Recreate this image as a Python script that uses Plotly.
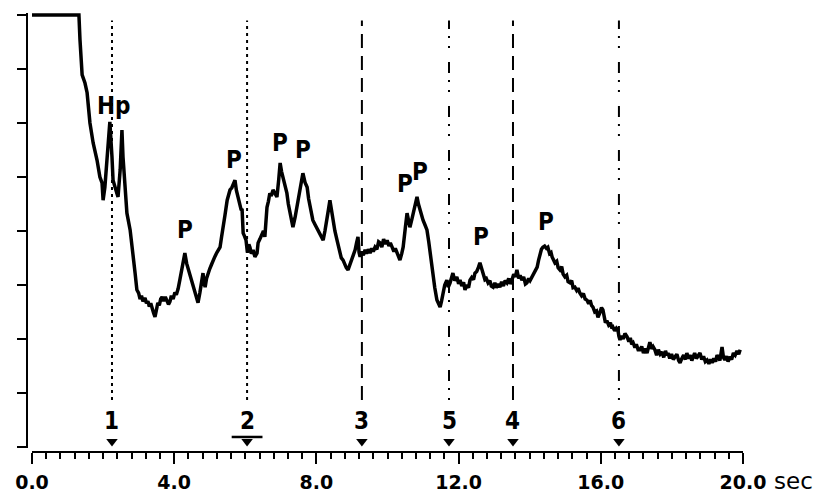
import plotly.graph_objects as go

# ---- data (time in sec, signal in arbitrary units 0..8) ----
t_sec = [
    0.00, 1.32, 1.35, 1.41, 1.49, 1.55, 1.63, 1.72, 1.83, 1.86, 1.91, 1.97, 2.00, 2.05, 2.11, 2.19,
    2.25, 2.28, 2.36, 2.42, 2.48, 2.53, 2.56, 2.62, 2.67, 2.76, 2.81, 2.86,
    2.90, 2.95, 3.00, 3.04, 3.08, 3.12, 3.18, 3.22, 3.26, 3.30, 3.34, 3.38, 3.42, 3.46, 3.50, 3.54,
    3.58, 3.62, 3.66, 3.70, 3.75, 3.80, 3.84, 3.88, 3.92, 3.97, 4.02, 4.06, 4.11, 4.16, 4.22, 4.27,
    4.30, 4.35, 4.39, 4.45, 4.53, 4.58, 4.63, 4.67, 4.72, 4.77, 4.81, 4.84, 4.87, 4.91, 4.95, 5.00,
    5.05, 5.09, 5.14, 5.20, 5.25, 5.29, 5.33, 5.37, 5.43, 5.49, 5.53, 5.57, 5.62, 5.66, 5.71, 5.75,
    5.79, 5.84, 5.88, 5.91, 5.94, 5.98, 6.02, 6.06, 6.10, 6.13, 6.17, 6.22, 6.27, 6.33, 6.36, 6.41,
    6.47, 6.51, 6.55, 6.58, 6.61, 6.65, 6.69, 6.73, 6.78, 6.83, 6.89, 6.94, 6.98, 7.02, 7.06, 7.11,
    7.17, 7.21, 7.26, 7.30, 7.34, 7.40, 7.44, 7.48, 7.53, 7.58, 7.62, 7.68, 7.74, 7.78, 7.82, 7.86,
    7.90, 7.96, 8.01, 8.05, 8.10, 8.15, 8.19, 8.24, 8.30, 8.34, 8.38, 8.42, 8.47, 8.52, 8.58, 8.62,
    8.66, 8.70, 8.75, 8.80, 8.84, 8.89, 8.94, 9.00, 9.04, 9.09, 9.13, 9.17, 9.20, 9.23, 9.27, 9.32,
    9.37, 9.41, 9.46, 9.51, 9.56, 9.60, 9.65, 9.70, 9.75, 9.79, 9.84, 9.89, 9.94, 9.99, 10.04, 10.08,
    10.13, 10.18, 10.22, 10.27, 10.31, 10.35, 10.40, 10.44, 10.50, 10.55, 10.59, 10.63, 10.68, 10.72,
    10.78, 10.83, 10.87, 10.91, 10.96, 11.00, 11.05, 11.11, 11.16, 11.20, 11.24, 11.28, 11.33, 11.39,
    11.44, 11.48, 11.52, 11.56, 11.61, 11.67, 11.71, 11.76, 11.80, 11.84, 11.89, 11.95, 12.00, 12.04,
    12.09, 12.14, 12.18, 12.23, 12.28, 12.32, 12.37, 12.42, 12.46, 12.51, 12.56, 12.60, 12.65, 12.69,
    12.74, 12.78, 12.83, 12.88, 12.92, 12.97, 13.02, 13.06, 13.11, 13.16, 13.21, 13.26, 13.31, 13.36,
    13.41, 13.45, 13.50, 13.55, 13.60, 13.64, 13.69, 13.73, 13.78, 13.83, 13.88, 13.92, 13.97, 14.01,
    14.06, 14.11, 14.16, 14.21, 14.25, 14.29, 14.33, 14.37, 14.42, 14.47, 14.51, 14.56, 14.60, 14.63,
    14.67, 14.71, 14.76, 14.80, 14.85, 14.90, 14.94, 14.99, 15.04, 15.08, 15.13, 15.18, 15.22, 15.27,
    15.32, 15.36, 15.41, 15.46, 15.51, 15.56, 15.61, 15.66, 15.70, 15.74, 15.78, 15.83, 15.88, 15.92,
    15.97, 16.02, 16.06, 16.10, 16.13, 16.17, 16.22, 16.27, 16.31, 16.34, 16.39, 16.44, 16.48, 16.51,
    16.54, 16.58, 16.63, 16.68, 16.74, 16.79, 16.83, 16.87, 16.91, 16.96, 17.00, 17.05, 17.10, 17.15,
    17.20, 17.25, 17.30, 17.34, 17.38, 17.43, 17.47, 17.52, 17.57, 17.62, 17.67, 17.72, 17.77, 17.82,
    17.86, 17.89, 17.94, 17.99, 18.04, 18.09, 18.14, 18.19, 18.23, 18.28, 18.33, 18.38, 18.42, 18.47,
    18.52, 18.56, 18.59, 18.64, 18.69, 18.74, 18.79, 18.84, 18.89, 18.94, 18.99, 19.04, 19.09, 19.13,
    19.18, 19.23, 19.27, 19.30, 19.35, 19.41, 19.45, 19.49, 19.54, 19.58, 19.63, 19.68, 19.73, 19.78,
    19.83, 19.88, 19.92,
]
signal = [
    8.00, 8.00, 7.54, 6.89, 6.74, 6.56, 6.00, 5.63, 5.31, 5.19, 5.00, 4.89, 4.57, 4.81, 5.37, 6.02,
    5.37, 4.94, 4.76, 4.63, 5.13, 5.87, 5.37, 4.76, 4.33, 4.02, 3.65, 3.45,
    3.22, 2.91, 2.85, 2.74, 2.80, 2.70, 2.76, 2.66, 2.70, 2.60, 2.66, 2.55, 2.48, 2.41, 2.55, 2.67,
    2.62, 2.74, 2.78, 2.70, 2.78, 2.72, 2.64, 2.69, 2.80, 2.74, 2.86, 2.82, 2.93, 3.10, 3.28, 3.45,
    3.59, 3.40, 3.31, 3.20, 3.04, 2.92, 2.80, 2.67, 2.85, 3.05, 3.22, 3.05, 2.96, 3.12, 3.22, 3.30,
    3.38, 3.46, 3.52, 3.60, 3.66, 3.70, 3.88, 4.02, 4.30, 4.57, 4.70, 4.76, 4.80, 4.88, 4.94, 4.75,
    4.63, 4.55, 4.40, 4.39, 3.96, 3.90, 3.83, 3.60, 3.75, 3.70, 3.58, 3.65, 3.52, 3.59, 3.78, 3.85,
    3.96, 4.00, 3.89, 4.20, 4.44, 4.55, 4.70, 4.65, 4.76, 4.70, 4.63, 4.95, 5.26, 5.10, 5.00, 4.85,
    4.70, 4.50, 4.33, 4.20, 4.07, 4.25, 4.40, 4.57, 4.75, 4.90, 5.07, 4.90, 4.81, 4.60, 4.44, 4.30,
    4.20, 4.12, 4.06, 4.02, 3.95, 3.90, 3.83, 4.00, 4.20, 4.40, 4.57, 4.38, 4.20, 4.00, 3.83, 3.70,
    3.59, 3.50, 3.46, 3.38, 3.32, 3.28, 3.38, 3.46, 3.55, 3.65, 3.78, 3.89, 3.60, 3.52, 3.62, 3.55,
    3.65, 3.58, 3.66, 3.59, 3.68, 3.62, 3.70, 3.66, 3.80, 3.78, 3.70, 3.85, 3.76, 3.83, 3.72, 3.78,
    3.70, 3.62, 3.68, 3.59, 3.50, 3.46, 3.58, 3.70, 4.05, 4.33, 4.20, 4.07, 4.20, 4.33,
    4.50, 4.63, 4.50, 4.39, 4.28, 4.20, 4.12, 4.02, 3.80, 3.59, 3.35, 3.15, 2.95, 2.72,
    2.64, 2.59, 2.70, 2.85, 3.00, 3.09, 2.96, 3.04, 3.14, 3.22, 3.08, 3.15, 3.02, 3.09,
    2.98, 3.05, 2.91, 3.00, 2.95, 3.09, 3.14, 3.10, 3.22, 3.25, 3.33, 3.41, 3.30, 3.22,
    3.10, 3.12, 3.04, 3.08, 2.98, 2.96, 3.04, 2.95, 3.02, 2.96, 3.06, 2.98, 3.08, 3.04,
    3.12, 3.02, 3.09, 3.20, 3.15, 3.28, 3.12, 3.18, 3.09, 3.15, 3.02, 3.04, 3.12, 3.08,
    3.15, 3.22, 3.28, 3.33, 3.46, 3.59, 3.66, 3.70, 3.72, 3.68, 3.70, 3.58, 3.60, 3.52,
    3.45, 3.41, 3.44, 3.32, 3.28, 3.34, 3.20, 3.15, 3.18, 3.06, 3.04, 3.08, 2.95, 2.96,
    2.90, 2.94, 2.85, 2.80, 2.84, 2.74, 2.72, 2.65, 2.72, 2.62, 2.59, 2.50, 2.52, 2.40,
    2.48, 2.58, 2.54, 2.42, 2.30, 2.34, 2.26, 2.30, 2.20, 2.22, 2.15, 2.20, 2.17, 2.05,
    1.98, 2.06, 2.00, 2.10, 2.04, 1.95, 2.02, 1.90, 1.93, 1.84, 1.90, 1.80, 1.80, 1.86,
    1.74, 1.82, 1.74, 1.84, 1.94, 1.82, 1.86, 1.80, 1.70, 1.80, 1.72, 1.76, 1.66, 1.78,
    1.70, 1.74, 1.64, 1.72, 1.62, 1.67, 1.72, 1.60, 1.56, 1.64, 1.70, 1.62, 1.74, 1.64,
    1.70, 1.60, 1.67, 1.74, 1.64, 1.70, 1.74, 1.62, 1.68, 1.58, 1.61, 1.54, 1.62, 1.56,
    1.64, 1.58, 1.70, 1.67, 1.60, 1.85, 1.66, 1.61, 1.68, 1.58, 1.67, 1.62, 1.74, 1.70,
    1.78, 1.72, 1.80,
]

# event markers
event_labels = ["1", "2", "3", "5", "4", "6"]
event_times = [2.25, 6.05, 9.28, 11.73, 13.53, 16.51]
event_dash = ["3px,4px", "3px,4px", "14px,8px", "2px,8px,2px,7px,11px,14px", "14px,8px",
              "2px,8px,2px,7px,11px,14px"]

# peak labels
peak_text = ["Hp", "P", "P", "P", "P", "P", "P", "P", "P"]
peak_t = [2.31, 4.30, 5.68, 6.98, 7.62, 10.50, 10.92, 12.63, 14.46]
peak_v = [6.31, 4.02, 5.31, 5.63, 5.50, 4.87, 5.10, 3.89, 4.17]

x_ticks = [0, 4, 8, 12, 16, 20]
x_tick_text = ["0.0", "4.0", "8.0", "12.0", "16.0", "20.0"]
y_ticks = [0, 1, 2, 3, 4, 5, 6, 7, 8]

LABEL_FONT = "DejaVu Sans Condensed, DejaVu Sans, sans-serif"

fig = go.Figure()

# event lines
for tt, dsh in zip(event_times, event_dash):
    fig.add_trace(go.Scatter(x=[tt, tt], y=[0.87, 7.9], mode="lines",
                             line=dict(color="black", width=2, dash=dsh),
                             hoverinfo="skip", showlegend=False))

# signal trace
fig.add_trace(go.Scatter(x=t_sec, y=signal, mode="lines",
                         line=dict(color="black", width=3.5),
                         showlegend=False))

# event triangle markers
fig.add_trace(go.Scatter(x=event_times, y=[0.10] * len(event_times), mode="markers",
                         marker=dict(symbol="triangle-down", size=10, color="black"),
                         showlegend=False, cliponaxis=False))
fig.add_trace(go.Scatter(x=[event_times[1]], y=[0.185], mode="markers",
                         marker=dict(symbol="line-ew", size=22, color="black",
                                     line=dict(width=2.5, color="black")),
                         showlegend=False, cliponaxis=False))

annotations = []
for lab, tt in zip(event_labels, event_times):
    annotations.append(dict(x=tt, y=0.48, text=lab, showarrow=False,
                            font=dict(family=LABEL_FONT, size=24, color="black", weight="bold"),
                            xanchor="center", yanchor="middle"))
for txt, tt, vv in zip(peak_text, peak_t, peak_v):
    annotations.append(dict(x=tt, y=vv, text=txt, showarrow=False,
                            font=dict(family=LABEL_FONT, size=24, color="black", weight="bold"),
                            xanchor="center", yanchor="middle"))
annotations.append(dict(x=1.07, y=-0.066, xref="paper", yref="paper", text="sec", showarrow=False,
                        font=dict(family="DejaVu Sans", size=23, color="black"),
                        xanchor="center", yanchor="middle", borderpad=0))

fig.update_layout(
    width=830, height=493,
    margin=dict(l=27, r=87, t=13, b=41),
    paper_bgcolor="white", plot_bgcolor="white",
    annotations=annotations,
    xaxis=dict(range=[0, 20], domain=[5 / 716, 1], anchor="free", position=0, automargin=False,
               showgrid=False, zeroline=False, showline=True, linecolor="black", linewidth=2,
               tickmode="array", tickvals=x_ticks, ticktext=x_tick_text,
               ticks="outside", ticklen=11, tickwidth=2, tickcolor="black",
               ticklabelstandoff=2,
               minor=dict(dtick=0.4, ticks="outside", ticklen=6, tickwidth=2, tickcolor="black",
                          showgrid=False),
               tickfont=dict(family="DejaVu Sans", size=19, color="black", weight="bold")),
    yaxis=dict(range=[-0.019, 8.037], domain=[4 / 439, 1], anchor="free", position=0,
               automargin=False,
               showgrid=False, zeroline=False, showline=True, linecolor="black", linewidth=2,
               tickmode="array", tickvals=y_ticks, showticklabels=False,
               ticks="outside", ticklen=9, tickwidth=2, tickcolor="black"),
)

fig.write_html("out.html")
